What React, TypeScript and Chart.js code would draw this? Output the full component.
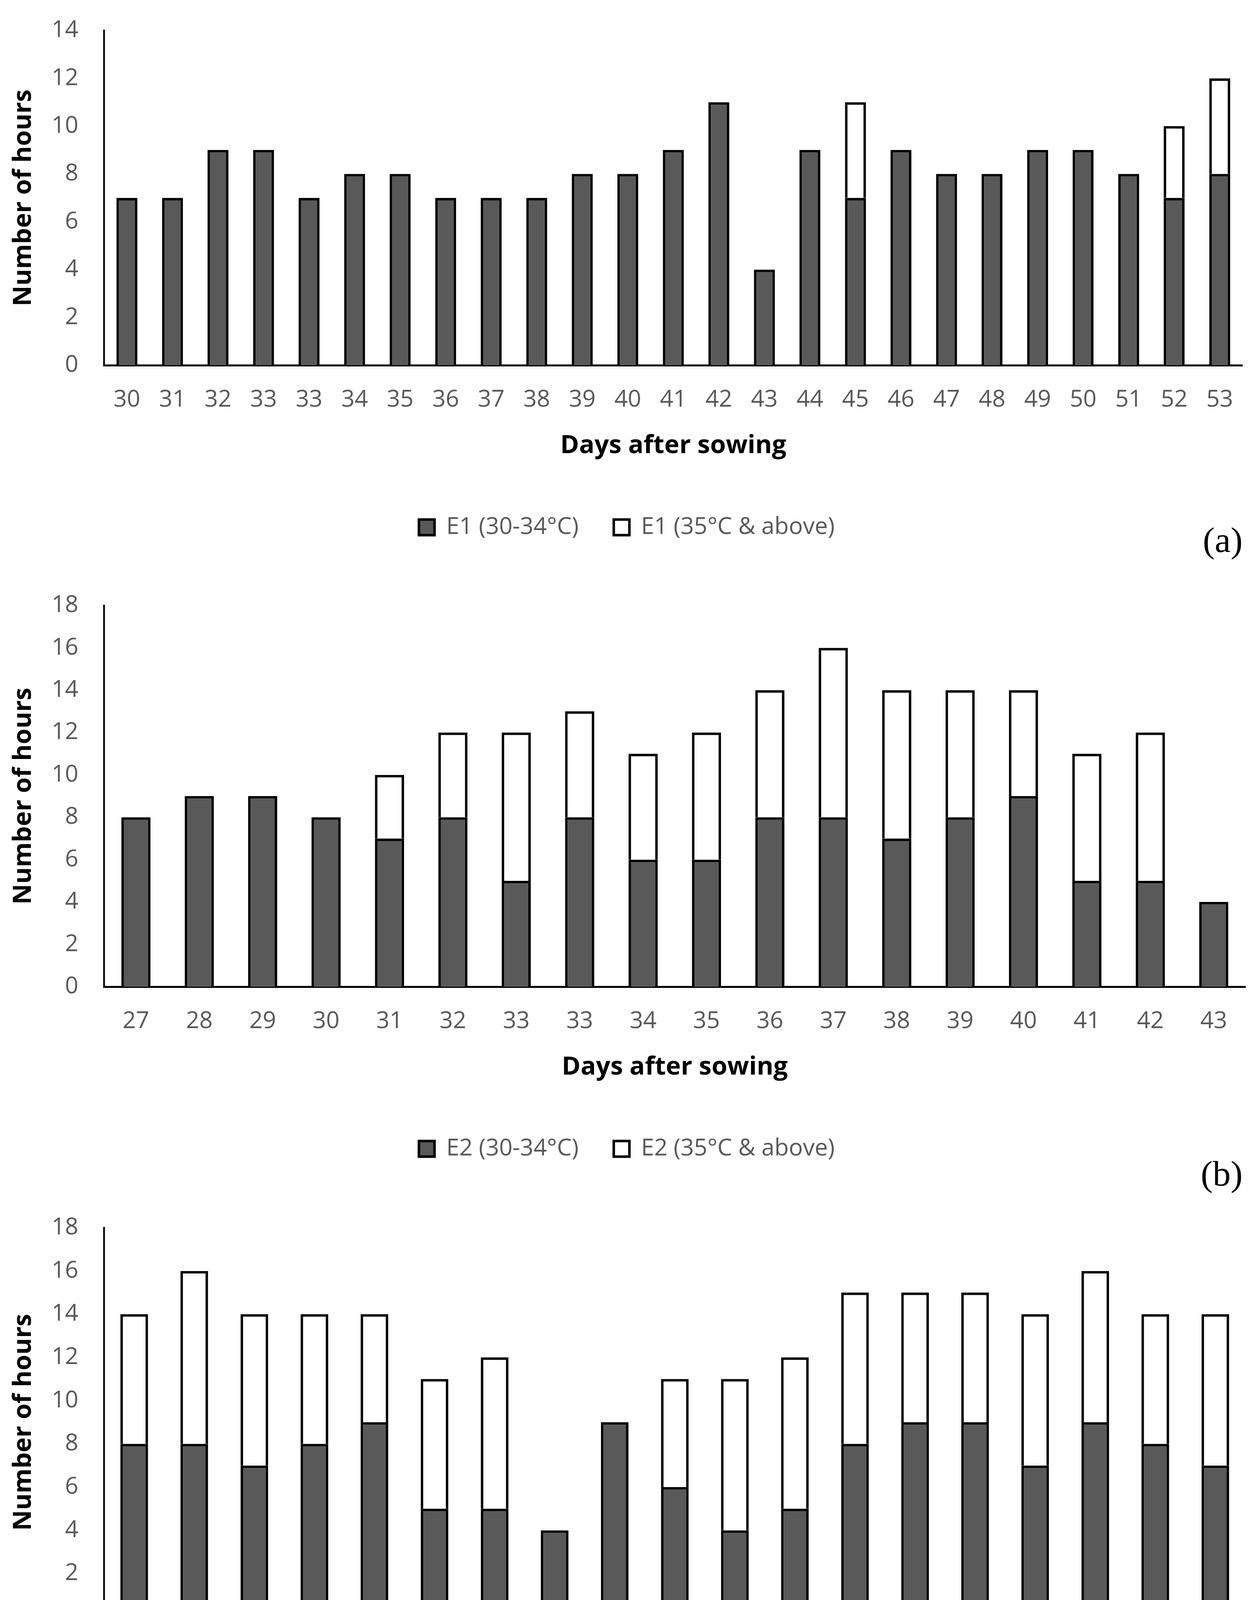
import { useEffect, useRef } from "react";
import { Chart, registerables } from "chart.js";

Chart.register(...registerables);

// (a) E1
const daysA = ["30", "31", "32", "33", "33", "34", "35", "36", "37", "38", "39", "40", "41", "42", "43", "44", "45", "46", "47", "48", "49", "50", "51", "52", "53"];
const lowA = [7, 7, 9, 9, 7, 8, 8, 7, 7, 7, 8, 8, 9, 11, 4, 9, 7, 9, 8, 8, 9, 9, 8, 7, 8];
const highA = [null, null, null, null, null, null, null, null, null, null, null, null, null, null, null, null, 4, null, null, null, null, null, null, 3, 4];

// (b) E2
const daysB = ["27", "28", "29", "30", "31", "32", "33", "33", "34", "35", "36", "37", "38", "39", "40", "41", "42", "43"];
const lowB = [8, 9, 9, 8, 7, 8, 5, 8, 6, 6, 8, 8, 7, 8, 9, 5, 5, 4];
const highB = [null, null, null, null, 3, 4, 7, 5, 5, 6, 6, 8, 7, 6, 5, 6, 7, null];

// (c) E3
const daysC = ["25", "26", "27", "28", "29", "30", "31", "32", "33", "33", "34", "35", "36", "37", "38", "39", "40", "41", "42"];
const lowC = [8, 8, 7, 8, 9, 5, 5, 4, 9, 6, 4, 5, 8, 9, 9, 7, 9, 8, 7];
const highC = [6, 8, 7, 6, 5, 6, 7, null, null, 5, 7, 7, 7, 6, 6, 7, 7, 6, 7];

const W = 3209;
const GREY = "#595959";
const FONT = "'Open Sans', sans-serif";

interface PanelProps {
  labels: string[];
  low: number[];
  high: (number | null)[];
  env: string;
  yMax: number;
  top: number;
  height: number;
  padTop: number;
  padBottom: number;
}

const Panel = ({ labels, low, high, env, yMax, top, height, padTop, padBottom }: PanelProps) => {
  const ref = useRef<HTMLCanvasElement>(null);

  useEffect(() => {
    if (!ref.current) return;
    const chart = new Chart(ref.current, {
      type: "bar",
      data: {
        labels,
        datasets: [
          {
            label: `${env} (30-34°C)`,
            data: low,
            backgroundColor: GREY,
            borderColor: "#000000",
            borderWidth: 6.5,
            categoryPercentage: 1,
            barPercentage: 0.46,
          },
          {
            label: `${env} (35°C & above)`,
            data: high,
            backgroundColor: "#ffffff",
            borderColor: "#000000",
            borderWidth: 6.5,
            categoryPercentage: 1,
            barPercentage: 0.46,
          },
        ],
      },
      options: {
        responsive: false,
        animation: false,
        devicePixelRatio: 1,
        layout: { padding: { left: 21, right: 22, top: padTop, bottom: padBottom } },
        plugins: {
          tooltip: { enabled: false },
          legend: {
            position: "bottom",
            labels: {
              color: GREY,
              font: { family: FONT, size: 60 },
              boxWidth: 40,
              boxHeight: 40,
              padding: 90,
            },
          },
        },
        scales: {
          x: {
            stacked: true,
            grid: { display: false, drawTicks: false },
            border: { display: true, color: "#000000", width: 5 },
            ticks: { color: GREY, font: { family: FONT, size: 60 }, padding: 53, maxRotation: 0, autoSkip: false },
            title: {
              display: true,
              text: "Days after sowing",
              color: "#000000",
              font: { family: FONT, size: 65, weight: "bold" },
              padding: { top: -11, bottom: 50 },
            },
          },
          y: {
            stacked: true,
            min: 0,
            max: yMax,
            grid: { display: false, drawTicks: false },
            border: { display: true, color: "#000000", width: 4.5 },
            ticks: { stepSize: 2, color: GREY, font: { family: FONT, size: 60 }, padding: 66 },
            title: {
              display: true,
              text: "Number of hours",
              color: "#000000",
              font: { family: FONT, size: 65, weight: "bold" },
              padding: { top: 0, bottom: -33 },
            },
          },
        },
      },
    });
    return () => chart.destroy();
  }, [labels, low, high, env, yMax, padTop, padBottom]);

  return (
    <canvas
      ref={ref}
      width={W}
      height={height}
      style={{ position: "absolute", left: 0, top, width: W, height }}
    />
  );
};

const tagStyle = (top: number): React.CSSProperties => ({
  position: "absolute",
  right: 29,
  top,
  fontFamily: "'Liberation Serif', 'Times New Roman', serif",
  fontSize: 92,
  lineHeight: 1,
  color: "#000000",
});

export default function App() {
  useEffect(() => {
    document.body.style.margin = "0";
  }, []);

  return (
    <div style={{ position: "absolute", left: 0, top: 0, width: W, height: 4682, overflow: "hidden", background: "#ffffff" }}>
      <Panel labels={daysA} low={lowA} high={highA} env="E1" yMax={14} top={-30} height={1450} padTop={108} padBottom={30} />
      <Panel labels={daysB} low={lowB} high={highB} env="E2" yMax={18} top={1440} height={1580} padTop={110} padBottom={39} />
      <Panel labels={daysC} low={lowC} high={highC} env="E3" yMax={18} top={3020} height={1620} padTop={123} padBottom={46} />
      <div style={tagStyle(1336)}>(a)</div>
      <div style={tagStyle(2958)}>(b)</div>
      <div style={tagStyle(4561)}>(c)</div>
    </div>
  );
}
